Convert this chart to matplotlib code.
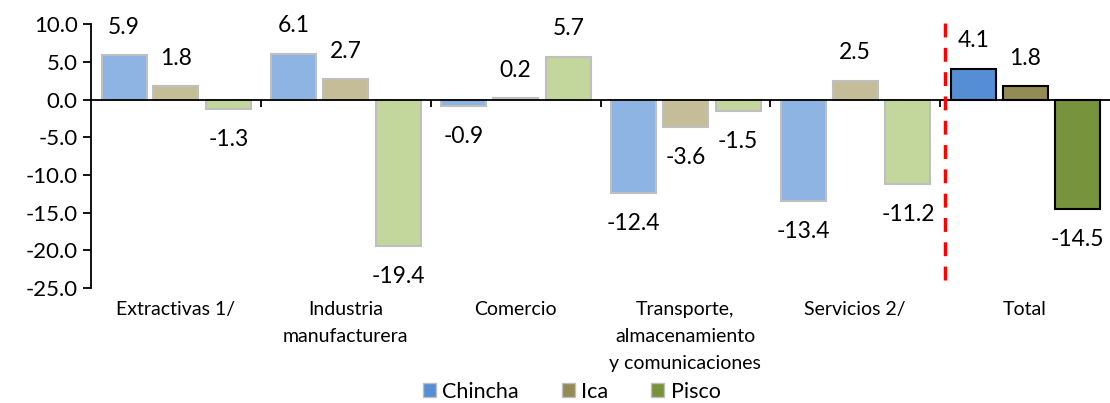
import numpy as np
import matplotlib.pyplot as plt
import matplotlib.transforms as mtransforms

plt.rcParams['font.family'] = ['Lato', 'DejaVu Sans']

categorias = ['Extractivas 1/', 'Industria\nmanufacturera', 'Comercio',
              'Transporte,\nalmacenamiento\ny comunicaciones', 'Servicios 2/', 'Total']
series = ['Chincha', 'Ica', 'Pisco']
chincha = [5.9, 6.1, -0.9, -12.4, -13.4, 4.1]
ica = [1.8, 2.7, 0.2, -3.6, 2.5, 1.8]
pisco = [-1.3, -19.4, 5.7, -1.5, -11.2, -14.5]

light = ['#8EB4E3', '#C4BD97', '#C3D69B']
dark = ['#558ED5', '#948A54', '#77933C']

fig = plt.figure(figsize=(11.1, 4.03), dpi=100)
ax = fig.add_axes([0.082, 0.285, 0.918, 0.655])

x = np.arange(len(categorias))
offsets = [-0.305, 0.0, 0.31]
width = 0.265

for k, vals in enumerate([chincha, ica, pisco]):
    for i, v in enumerate(vals):
        is_total = i == len(categorias) - 1
        ax.bar(x[i] + offsets[k], v, width,
               color=dark[k] if is_total else light[k],
               edgecolor='black' if is_total else '#BFBFBF',
               linewidth=1.5, zorder=2)
        ax.annotate(f'{v:.1f}', (x[i] + offsets[k], v),
                    xytext=(0, 20 if v >= 0 else -22), textcoords='offset points',
                    ha='center', va='center', fontsize=16.5)

# legend handles
for k, s in enumerate(series):
    ax.bar(0, 0, 0, color=dark[k], edgecolor='#BFBFBF', linewidth=1, label=s)

ax.set_xlim(-0.5, 5.5)
ax.set_ylim(-25, 10)
ax.set_yticks(np.arange(-25, 10.1, 5))
ax.set_yticklabels([f'{t:.1f}' for t in np.arange(-25, 10.1, 5)], fontsize=16)
ax.tick_params(axis='y', direction='out', length=6, width=1.3)

ax.spines['top'].set_visible(False)
ax.spines['right'].set_visible(False)
ax.spines['left'].set_linewidth(1.3)
ax.spines['bottom'].set_position(('data', 0))
ax.spines['bottom'].set_linewidth(1.3)
ax.spines['bottom'].set_zorder(3)
ax.set_xticks(np.arange(0.5, 5, 1))
ax.set_xticklabels([])
ax.tick_params(axis='x', direction='out', length=5, width=1.3)

trans = mtransforms.blended_transform_factory(ax.transData, ax.transAxes)
for i, c in enumerate(categorias):
    ax.text(x[i], -0.05, c, transform=trans, ha='center', va='top',
            fontsize=14, linespacing=1.7)

ax.axvline(4.53, ymin=0.03, ymax=1.04, color='#FF0000', linestyle=(0, (4, 3)),
           linewidth=2.5, clip_on=False, zorder=4)

fig.legend(loc='lower center', bbox_to_anchor=(0.515, -0.045), ncol=3, frameon=False,
           fontsize=15.5, handlelength=0.6, handleheight=0.6, handletextpad=0.3,
           columnspacing=2.0)

fig.savefig('out.png', dpi=100)
